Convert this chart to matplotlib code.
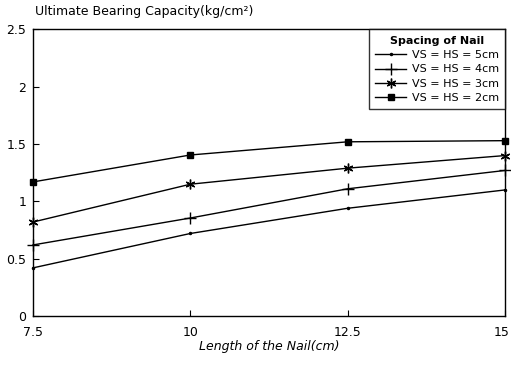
import matplotlib
matplotlib.use("Agg")
import matplotlib.pyplot as plt
import matplotlib.transforms as mtransforms

length = [7.5, 10, 12.5, 15]
labels = ["VS = HS = 5cm", "VS = HS = 4cm", "VS = HS = 3cm", "VS = HS = 2cm"]
s5 = [0.42, 0.72, 0.94, 1.10]
s4 = [0.62, 0.855, 1.11, 1.27]
s3 = [0.82, 1.15, 1.29, 1.40]
s2 = [1.17, 1.405, 1.52, 1.53]
xticks = [7.5, 10, 12.5, 15]
xtick_labels = ["7.5", "10", "12.5", "15"]
yticks = [0, 0.5, 1, 1.5, 2, 2.5]
ytick_labels = ["0", "0.5", "1", "1.5", "2", "2.5"]

plt.rcParams['font.family'] = ['DejaVu Sans']

fig = plt.figure(figsize=(5.11, 3.67), dpi=100)
ax = fig.add_axes([33/511, 1-316/367, (505-33)/511, (316-29.5)/367])

series = [s5, s4, s3, s2]
markers = ['.', '+', (6, 2, 0), 's']
msizes = [3, 8, 7, 4.5]
for vals, lab, m, ms in zip(series, labels, markers, msizes):
    ax.plot(length, vals, color='black', lw=1.0, marker=m, markersize=ms,
            markeredgewidth=1.0, label=lab, clip_on=False)

ax.set_xlim(7.5, 15)
ax.set_ylim(0, 2.5)
ax.set_xticks(xticks)
ax.set_xticklabels(xtick_labels)
ax.set_yticks(yticks)
ax.set_yticklabels(ytick_labels)
ax.tick_params(direction='in', length=4, labelsize=9, width=0.8)
ax.tick_params(axis='x', pad=7)
ax.tick_params(axis='y', pad=5)
for sp in ax.spines.values():
    sp.set_linewidth(1.0)

last = ax.get_xticklabels()[-1]
last.set_transform(last.get_transform() + mtransforms.ScaledTranslation(-3/100, 0, fig.dpi_scale_trans))

ax.set_xlabel("Length of the Nail(cm)", style='italic', fontsize=9, labelpad=1)
fig.text(35/511, 1-12/367, "Ultimate Bearing Capacity(kg/cm²)", fontsize=9,
         ha='left', va='center')

leg = ax.legend(title="Spacing of Nail", loc='upper right', fontsize=8,
                title_fontsize=8, frameon=True, fancybox=False,
                edgecolor='black', borderaxespad=0, handlelength=2.8,
                labelspacing=0.4, borderpad=0.55, handletextpad=0.5)
leg.get_frame().set_linewidth(1.0)
leg.get_title().set_fontweight('bold')

fig.savefig("out.png", dpi=100)
